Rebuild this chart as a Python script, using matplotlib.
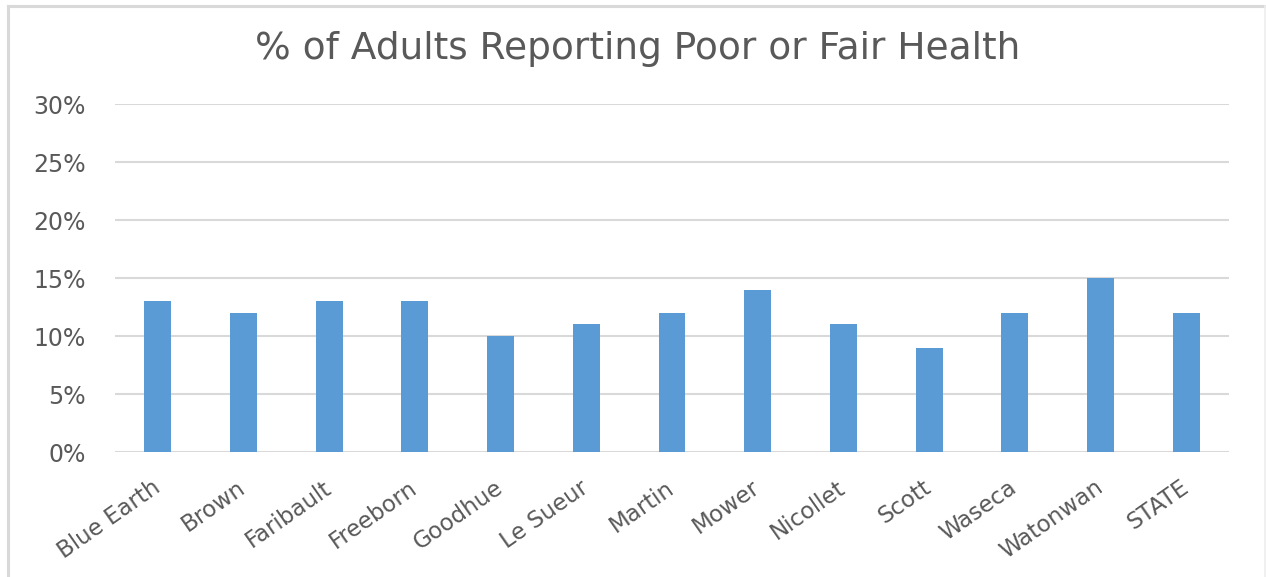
import matplotlib
matplotlib.use("Agg")
import matplotlib.pyplot as plt
from matplotlib.lines import Line2D
from matplotlib.ticker import FuncFormatter

categories = ["Blue Earth", "Brown", "Faribault", "Freeborn", "Goodhue", "Le Sueur",
              "Martin", "Mower", "Nicollet", "Scott", "Waseca", "Watonwan", "STATE"]
values = [13, 12, 13, 13, 10, 11, 12, 14, 11, 9, 12, 15, 12]
yticks = [0, 5, 10, 15, 20, 25, 30]
title = "% of Adults Reporting Poor or Fair Health"

plt.rcParams['font.family'] = ['DejaVu Sans']
W, H = 1266, 577
fig = plt.figure(figsize=(W / 100, H / 100), dpi=100)
fig.patch.set_facecolor('white')

# outer frame (left, top, faint right; no bottom edge)
fig.add_artist(Line2D([8 / W, 8 / W], [0, 1 - 6 / H], transform=fig.transFigure,
                      color='#D9D9D9', linewidth=2.2))
fig.add_artist(Line2D([8 / W, 1265 / W], [1 - 6 / H, 1 - 6 / H], transform=fig.transFigure,
                      color='#D9D9D9', linewidth=2.2))
fig.add_artist(Line2D([1265 / W, 1265 / W], [0, 1 - 6 / H], transform=fig.transFigure,
                      color='#EDEDED', linewidth=1.2))

ax = fig.add_axes([115 / W, 1 - 452 / H, (1229 - 115) / W, (452 - 104) / H])
x = list(range(len(categories)))
ax.bar(x, values, width=0.315, color='#5B9BD5', zorder=3)
ax.set_xlim(-0.5, len(categories) - 0.5)
ax.set_ylim(0, 30)
ax.set_yticks(yticks)
ax.yaxis.set_major_formatter(FuncFormatter(lambda v, p: f"{int(v)}%"))
ax.grid(axis='y', color='#D9D9D9', linewidth=1.5, zorder=0)
for s in ax.spines.values():
    s.set_visible(False)
ax.tick_params(axis='both', length=0, labelcolor='#595959')
ax.tick_params(axis='y', pad=21, labelsize=17)
ax.set_xticks(x)
ax.set_xticklabels(categories, rotation=35, ha='right', va='center', rotation_mode='anchor')
ax.tick_params(axis='x', pad=24, labelsize=16.5)

fig.text(0.504, 1 - 49 / H, title, ha='center', va='center', fontsize=27, color='#595959')

fig.savefig('out.png', dpi=100, facecolor='white')
